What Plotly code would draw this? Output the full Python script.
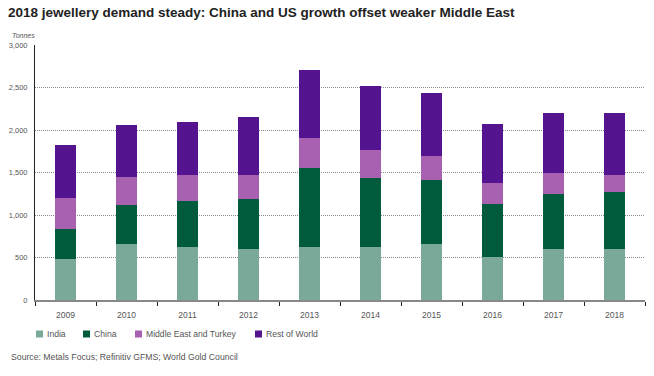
import plotly.graph_objects as go

years = ["2009", "2010", "2011", "2012", "2013", "2014", "2015", "2016", "2017", "2018"]
india = [479, 662, 620, 596, 620, 627, 662, 502, 596, 596]
china = [360, 459, 548, 596, 937, 804, 750, 631, 651, 671]
middle_east_turkey = [361, 330, 299, 275, 353, 330, 282, 240, 243, 207]
rest_of_world = [620, 608, 633, 683, 800, 757, 737, 694, 714, 730]

series = [
    ("India", india, "#7aa99a"),
    ("China", china, "#005a3c"),
    ("Middle East and Turkey", middle_east_turkey, "#a860b0"),
    ("Rest of World", rest_of_world, "#54138f"),
]

W, H = 654, 376
ML, MR, MT, MB = 35, 9, 45, 76

fig = go.Figure()
for name, vals, col in series:
    fig.add_trace(go.Bar(x=years, y=vals, name=name, marker_color=col,
                         marker_line_width=0, showlegend=False))

font = "Liberation Sans, Arial, sans-serif"
fig.update_layout(
    barmode="stack",
    width=W, height=H,
    margin=dict(l=ML, r=MR, t=MT, b=MB, autoexpand=False),
    paper_bgcolor="white", plot_bgcolor="white",
    bargap=0.65,
    font=dict(family=font, size=8, color="#555555"),
    title=dict(text="<b>2018 jewellery demand steady: China and US growth offset weaker Middle East</b>",
               x=8 / W, xanchor="left", y=1 - 12 / H, yanchor="middle",
               font=dict(family=font, size=13.5, color="#222222")),
    showlegend=False,
)
fig.update_xaxes(type="category", tickson="boundaries", ticks="outside", ticklen=4,
                 tickcolor="#222222", showline=True, linecolor="#888888", linewidth=1.5,
                 ticklabelstandoff=6, automargin=False,
                 tickfont=dict(size=8.5, color="#555555"))
fig.update_yaxes(range=[0, 3000], dtick=500, tickformat=",", showgrid=True,
                 gridcolor="#8a8a8a", griddash="1px,1px", gridwidth=1,
                 showline=True, linecolor="#222222", linewidth=1,
                 zeroline=False, ticks="", ticklabelstandoff=5, automargin=False,
                 tickfont=dict(size=7.5, color="#555555"))


def px_x(p):
    return (p - ML) / (W - ML - MR)


def px_y(p):
    return (H - MB - p) / (H - MT - MB)


fig.add_annotation(text="<i>Tonnes</i>", xref="paper", yref="paper", x=px_x(10), y=px_y(36),
                   xanchor="left", yanchor="middle", showarrow=False,
                   font=dict(size=7, color="#555555"))
fig.add_annotation(text="Source: Metals Focus; Refinitiv GFMS; World Gold Council",
                   xref="paper", yref="paper", x=px_x(9), y=px_y(357), xanchor="left",
                   yanchor="middle", showarrow=False,
                   font=dict(size=8.7, color="#555555"))

legend_x = [36, 83, 135, 255]
ly = 334
for (name, vals, col), lx in zip(series, legend_x):
    fig.add_shape(type="rect", xref="paper", yref="paper",
                  x0=px_x(lx), x1=px_x(lx + 7), y0=px_y(ly - 3.5), y1=px_y(ly + 3.5),
                  fillcolor=col, line_width=0)
    fig.add_annotation(text=name, xref="paper", yref="paper", x=px_x(lx + 9), y=px_y(ly),
                       xanchor="left", yanchor="middle", showarrow=False,
                       font=dict(size=8.6, color="#555555"))

fig.write_html("out.html", config={"displayModeBar": False},
               post_script="document.body.style.margin='0px';")
